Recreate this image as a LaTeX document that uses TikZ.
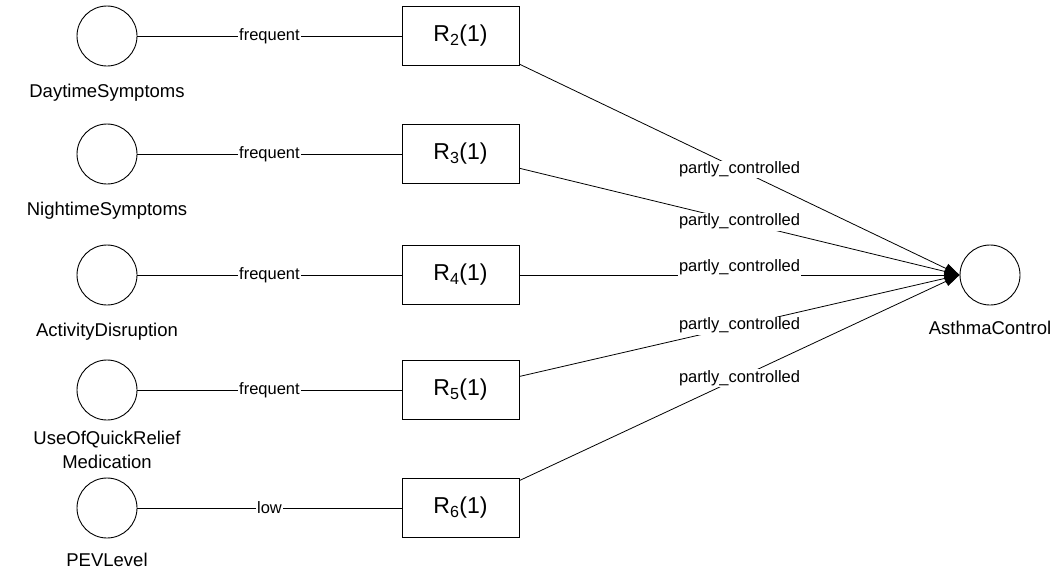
\documentclass[tikz,border=0pt]{standalone}
\usepackage{fontspec}
\setmainfont{Liberation Sans}
\usetikzlibrary{arrows.meta}

\begin{document}
\begin{tikzpicture}[x=1pt,y=-1pt,
	varnode/.style={circle,draw,line width=0.9pt,minimum size=60pt,inner sep=0pt},
	rulebox/.style={draw,line width=1pt,minimum width=117pt,minimum height=59pt,inner sep=0pt,font=\fontsize{23}{27}\selectfont},
	varlabel/.style={anchor=base,inner sep=0pt,align=center,font=\fontsize{18.5}{24}\selectfont},
	elabel/.style={fill=white,inner sep=1.2pt,font=\fontsize{16.5}{19}\selectfont},
	link/.style={line width=0.8pt},
	infer/.style={line width=0.8pt,-{Triangle[length=15pt,width=10pt]}}]
		\useasboundingbox (0,0) rectangle (1059,568);
		\node[varnode] (ds) at (107,36) {};
		\node[varnode] (ns) at (107,154) {};
		\node[varnode] (ad) at (107,275) {};
		\node[varnode] (uq) at (107,390) {};
		\node[varnode] (pev) at (107,508) {};
		\node[varnode] (ac) at (990,275) {};
		\node[varlabel] (dsl) at (107,97) {DaytimeSymptoms};
		\node[varlabel] (nsl) at (107,215) {NightimeSymptoms};
		\node[varlabel] (adl) at (107,336) {ActivityDisruption};
		\node[varlabel] (uql) at (107,468) {UseOfQuickRelief\\Medication};
		\node[varlabel] (pevl) at (107,566) {PEVLevel};
		\node[varlabel] (acl) at (990,334) {AsthmaControl};
		\node[rulebox] (r2) at (460.5,36) {R\textsubscript{2}(1)};
		\node[rulebox] (r3) at (460.5,154) {R\textsubscript{3}(1)};
		\node[rulebox] (r4) at (460.5,275) {R\textsubscript{4}(1)};
		\node[rulebox] (r5) at (460.5,390) {R\textsubscript{5}(1)};
		\node[rulebox] (r6) at (460.5,508) {R\textsubscript{6}(1)};
		\draw[link] (ds) -- node[elabel] {frequent} (r2);
		\draw[link] (ns) -- node[elabel] {frequent} (r3);
		\draw[link] (ad) -- node[elabel] {frequent} (r4);
		\draw[link] (uq) -- node[elabel] {frequent} (r5);
		\draw[link] (pev) -- node[elabel] {low} (r6);
		\draw[infer] (r2) -- node[elabel] {partly\_controlled} (ac.west);
		\draw[infer] (r3) -- node[elabel] {partly\_controlled} (ac.west);
		\draw[infer] (r4) -- node[elabel,yshift=8pt] {partly\_controlled} (ac.west);
		\draw[infer] (r5) -- node[elabel] {partly\_controlled} (ac.west);
		\draw[infer] (r6) -- node[elabel] {partly\_controlled} (ac.west);
	\end{tikzpicture}
\end{document}
